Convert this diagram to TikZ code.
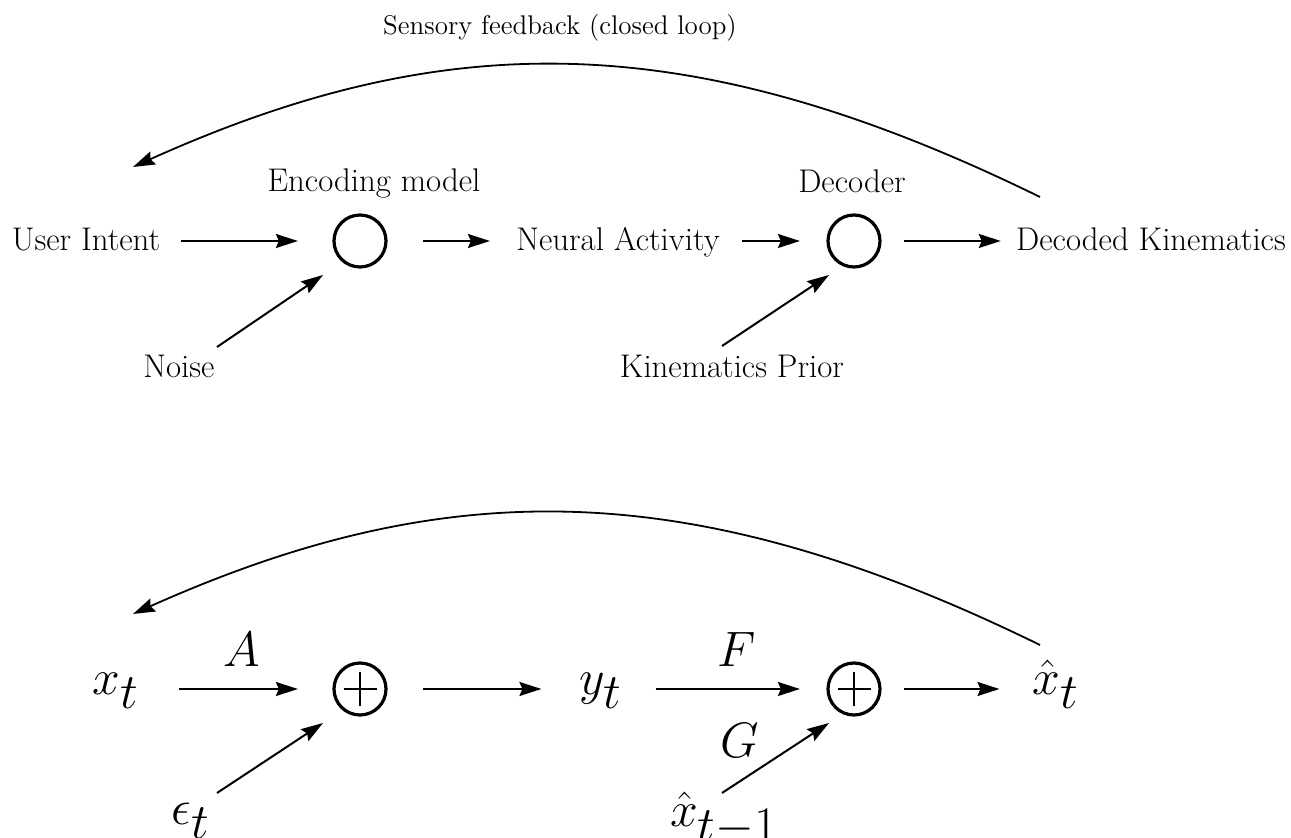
\documentclass[tikz,border=0pt]{standalone}
\usetikzlibrary{arrows.meta}
\begin{document}
\begin{tikzpicture}[x=0.5pt,y=-0.5pt,
  lbl/.style={inner sep=0pt, font=\fontsize{16.4}{19}\selectfont, text height=11pt, text depth=1pt},
  fblbl/.style={inner sep=0pt, font=\fontsize{13.5}{16}\selectfont},
  mlbl/.style={inner sep=0pt, font=\fontsize{33}{38}\selectfont, text height=8pt, text depth=2pt},
  sumnode/.style={circle, draw, line width=1.6pt, minimum size=26pt, inner sep=0pt},
  plusnode/.style={sumnode, path picture={
     \draw[line width=0.7pt] ([xshift=-8.25pt]path picture bounding box.center) -- ([xshift=8.25pt]path picture bounding box.center);
     \draw[line width=0.7pt] ([yshift=-8.5pt]path picture bounding box.center) -- ([yshift=8.5pt]path picture bounding box.center);}},
  arr/.style={line width=1pt, -{Stealth[length=11pt,width=7pt,inset=1.5pt]}},
  arcarr/.style={line width=0.9pt, -{Stealth[length=11pt,width=7pt,inset=1.5pt]}}
]
\useasboundingbox (0,0) rectangle (1291,838);

% ---------- top diagram ----------
\node[fblbl, anchor=base] (fb) at (560,35) {Sensory feedback (closed loop)};
\node[lbl] (ui) at (86,241) {User Intent};
\node[sumnode] (enc) at (360,241) {};
\node[lbl, anchor=base] (enclbl) at (374,192) {Encoding model};
\node[lbl] (na) at (618,241) {Neural Activity};
\node[sumnode] (dec) at (854,241) {};
\node[lbl, anchor=base] (declbl) at (852,193) {Decoder};
\node[lbl] (dk) at (1151,241) {Decoded Kinematics};
\node[lbl, anchor=base] (noise) at (179,378) {Noise};
\node[lbl, anchor=base] (kp) at (732,378) {Kinematics Prior};

\draw[arr, shorten <=10pt, shorten >=17.25pt] (ui.east) -- (enc.west);
\draw[arr, shorten <=17.75pt, shorten >=13pt] (enc.east) -- (na.west);
\draw[arr, shorten <=11pt, shorten >=13.25pt] (na.east) -- (dec.west);
\draw[arr, shorten <=11.25pt, shorten >=7.5pt] (dec.east) -- (dk.west);
\draw[arr] ([xshift=19pt,yshift=15.5pt]noise.base) -- ([xshift=-18.5pt,yshift=-17pt]enc.center);
\draw[arr] ([xshift=-5pt,yshift=16pt]kp.base) -- ([xshift=-12.5pt,yshift=-17pt]dec.center);
\draw[arcarr] ([xshift=-55.5pt,yshift=27pt]dk.base) .. controls (691,26) and (446,26) .. ([xshift=23.5pt,yshift=42pt]ui.base);

% ---------- bottom diagram ----------
\node[mlbl] (xt) at (116,689) {$x_t$};
\node[plusnode] (sum1) at (360,689) {};
\node[mlbl] (yt) at (601,689) {$y_t$};
\node[plusnode] (sum2) at (854,689) {};
\node[mlbl] (xh) at (1056,689) {$\hat{x}_t$};
\node[mlbl, anchor=base] (A) at (242,667) {$A$};
\node[mlbl, anchor=base] (F) at (737,667) {$F$};
\node[mlbl, anchor=base] (G) at (740,758) {$G$};
\node[mlbl, anchor=base] (eps) at (191,825) {$\epsilon_t$};
\node[mlbl, anchor=base] (xh1) at (724,827) {$\hat{x}_{t-1}$};

\draw[arr, shorten <=19.5pt, shorten >=17.25pt] (xt.east) -- (sum1.west);
\draw[arr, shorten <=17.75pt, shorten >=19pt] (sum1.east) -- (yt.west);
\draw[arr, shorten <=16.5pt, shorten >=13.25pt] (yt.east) -- (sum2.west);
\draw[arr, shorten <=11.25pt, shorten >=16.5pt] (sum2.east) -- (xh.west);
\draw[arr] ([xshift=13pt,yshift=16pt]eps.base) -- ([xshift=-18.5pt,yshift=-17pt]sum1.center);
\draw[arr] ([xshift=-1pt,yshift=17pt]xh1.base) -- ([xshift=-12.5pt,yshift=-17pt]sum2.center);
\draw[arcarr] ([xshift=-8pt,yshift=25pt]xh.base) .. controls (691,474) and (446,474) .. ([xshift=8.5pt,yshift=40.5pt]xt.base);
\end{tikzpicture}
\end{document}
